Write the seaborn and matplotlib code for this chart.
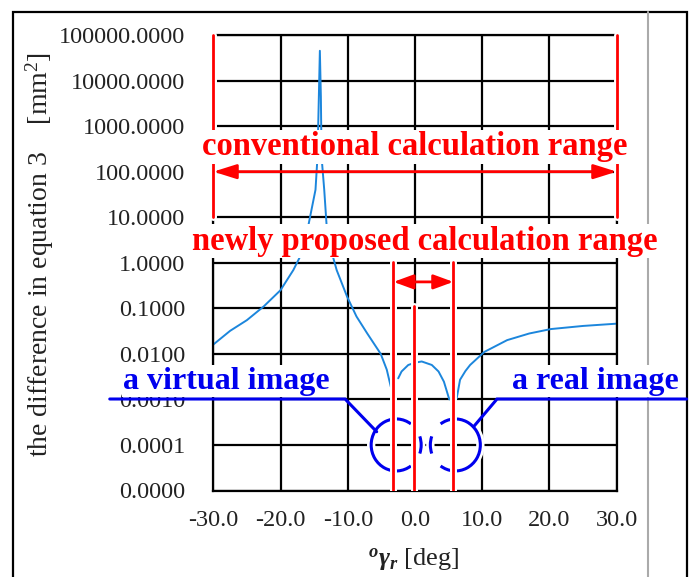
import numpy as np
import pandas as pd
import seaborn as sns
import matplotlib
matplotlib.use("Agg")
import matplotlib.pyplot as plt
import matplotlib.patheffects as pe
from matplotlib.patches import Arc, Rectangle
from matplotlib.lines import Line2D
from matplotlib.ticker import FormatStrFormatter, FixedLocator
from matplotlib.transforms import ScaledTranslation

# ---------------- data ----------------
seg1_x = [-30, -27.5, -25, -22.5, -20, -18.1, -16.6, -16.0, -14.8, -14.5, -14.3, -14.15,
          -14.0, -13.9, -13.5, -13.1, -12.2, -11.65, -10.1, -8.7, -7.1, -5.1, -4.2, -3.6]
seg1_y = [0.016, 0.032, 0.055, 0.11, 0.25, 0.69, 1.9, 5.2, 40, 213, 4500, 45000,
          4500, 213, 40, 5.2, 1.35, 0.69, 0.18, 0.066, 0.028, 0.01, 0.0045, 0.0019]
seg2_x = [-2.5, -2.0, -1.0, 0.0, 1.0, 2.5, 3.5, 4.3, 5.1]
seg2_y = [0.0029, 0.0041, 0.0057, 0.0064, 0.0068, 0.0057, 0.0041, 0.00245, 0.001]
seg3_x = [6.2, 6.7, 7.5, 8.2, 10.3, 13.7, 17.0, 20.2, 25.0, 30.0]
seg3_y = [0.00105, 0.0027, 0.0042, 0.0057, 0.011, 0.02, 0.028, 0.035, 0.041, 0.046]

x_ticks = [-30, -20, -10, 0, 10, 20, 30]
y_ticks = [1e-5, 1e-4, 1e-3, 1e-2, 1e-1, 1, 10, 100, 1000, 10000, 100000]

conv_range = [-30, 30]          # conventional calculation range
new_range = [-3.2, 5.7]         # newly proposed calculation range
mid_line_x = -0.2
circle_centers_x = [-2.8, 6.0]
circle_y = 1e-4

# ---------------- style ----------------
sns.set_theme(style="white")
plt.rcParams["font.family"] = ["Liberation Serif", "DejaVu Serif"]
plt.rcParams["mathtext.fontset"] = "custom"
plt.rcParams["mathtext.rm"] = "Liberation Serif"
plt.rcParams["mathtext.it"] = "Liberation Serif:italic"
plt.rcParams["mathtext.bf"] = "Liberation Serif:bold"
plt.rcParams["mathtext.bfit"] = "Liberation Serif:italic:bold"
plt.rcParams["axes.unicode_minus"] = False

W, H = 696, 577
fig = plt.figure(figsize=(W / 100, H / 100), dpi=100)
ax = fig.add_axes([213.3 / W, 1 - 490.5 / H, (616.7 - 213.3) / W, (490.5 - 35) / H])

df = pd.concat([
    pd.DataFrame({"x": seg1_x, "y": seg1_y, "seg": 1}),
    pd.DataFrame({"x": seg2_x, "y": seg2_y, "seg": 2}),
    pd.DataFrame({"x": seg3_x, "y": seg3_y, "seg": 3}),
])
sns.lineplot(data=df, x="x", y="y", units="seg", estimator=None, sort=False,
             color="#1c86dc", lw=1.4, ax=ax, zorder=2)

ax.set_yscale("log")
ax.set_xlim(-30, 30)
ax.set_ylim(1e-5, 1e5)
ax.xaxis.set_major_locator(FixedLocator(x_ticks))
ax.yaxis.set_major_locator(FixedLocator(y_ticks))
ax.yaxis.set_minor_locator(FixedLocator([]))
ax.xaxis.set_major_formatter(FormatStrFormatter("%.1f"))
ax.yaxis.set_major_formatter(FormatStrFormatter("%.4f"))
ax.tick_params(axis="both", length=0, labelsize=17.5, colors="#222222")
ax.tick_params(axis="y", pad=20)
ax.tick_params(axis="x", pad=14)
ax.grid(True, color="black", lw=1.6)
ax.set_axisbelow(True)
for s in ax.spines.values():
    s.set_color("black")
    s.set_linewidth(1.6)
ax.set_xlabel("")
ax.set_ylabel("")

halo = lambda w: [pe.Stroke(linewidth=w, foreground="white"), pe.Normal()]

# circles (pixel-sized, centred on data points)
arc_specs = [
    (circle_centers_x[0], [(55, 305), (-20, 20)]),
    (circle_centers_x[1], [(-125, 125), (160, 200)]),
]
for cx, parts in arc_specs:
    tr = fig.dpi_scale_trans + ScaledTranslation(cx, circle_y, ax.transData)
    for t1, t2 in parts:
        a = Arc((0, 0), 0.5, 0.52, theta1=t1, theta2=t2, transform=tr,
                color="#0000ee", lw=2.2, zorder=3, clip_on=False)
        a.set_path_effects(halo(6))
        ax.add_patch(a)

# blue connector lines
ax.plot([-45.4, -10.4, -5.7], [0.00102, 0.00102, 0.000195], color="#0000ee",
        lw=2.2, zorder=3, clip_on=False, solid_joinstyle="miter")
ax.plot([40.4, 12.2, 8.7], [0.00102, 0.00102, 0.00025], color="#0000ee",
        lw=2.2, zorder=3, clip_on=False, solid_joinstyle="miter")

# red vertical lines
red = "#ff0000"
for xv in conv_range:
    ax.plot([xv, xv], [1e5, 10], color=red, lw=2, zorder=4, clip_on=False,
            path_effects=halo(5))
for xv in new_range:
    ax.plot([xv, xv], [1.05, 1e-5], color=red, lw=2, zorder=4,
            path_effects=halo(5))
ax.plot([mid_line_x, mid_line_x], [0.11, 1e-5], color=red, lw=2, zorder=4,
        path_effects=halo(5))

# arrows
ax.annotate("", xy=(conv_range[0], 100), xytext=(conv_range[1], 100),
            arrowprops=dict(arrowstyle="<|-|>,head_length=0.7,head_width=0.22",
                            color=red, lw=2, mutation_scale=20,
                            shrinkA=0, shrinkB=0), zorder=4)
ax.annotate("", xy=(new_range[0], 0.38), xytext=(new_range[1], 0.38),
            arrowprops=dict(arrowstyle="<|-|>,head_length=0.6,head_width=0.22",
                            color=red, lw=2, mutation_scale=20,
                            shrinkA=0, shrinkB=0), zorder=4)

# texts
bb = dict(facecolor="white", edgecolor="none", pad=1.0)
ax.text(0, 348, "conventional calculation range", color=red, fontsize=23.5,
        fontweight="bold", ha="center", va="center", bbox=bb, zorder=5,
        clip_on=False)
ax.text(1.4, 3.0, "newly proposed calculation range", color=red, fontsize=23.5,
        fontweight="bold", ha="center", va="center", bbox=bb, zorder=5,
        clip_on=False)
ax.text(-28, 0.00253, "a virtual image", color="#0000ee", fontsize=23,
        fontweight="bold", ha="center", va="center", bbox=bb, zorder=5,
        clip_on=False)
ax.text(26.8, 0.00253, "a real image", color="#0000ee", fontsize=23,
        fontweight="bold", ha="center", va="center", bbox=bb, zorder=5,
        clip_on=False)

# axis labels
fig.text(40 / W, 1 - 255 / H, "the difference in equation 3    [mm$^2$]",
         rotation=90, ha="center", va="center", fontsize=20, color="#222222")
fig.text(414 / W, 1 - 560 / H,
         r"$^{\mathbfit{o}}\mathbfit{\gamma}_{\mathbfit{r}}$ [deg]",
         ha="center", va="center", fontsize=19, color="#222222")

# outer frame and grey divider
fig.add_artist(Rectangle((13 / W, -0.05), (687 - 13) / W, 1.05 - 12 / H,
                         transform=fig.transFigure, fill=False,
                         edgecolor="black", lw=1.6, zorder=-1))
fig.add_artist(Line2D([648 / W, 648 / W], [0, 1 - 12 / H], transform=fig.transFigure,
                      color="#aaaaaa", lw=1.5, zorder=-1))

fig.savefig("out.png", dpi=100)
